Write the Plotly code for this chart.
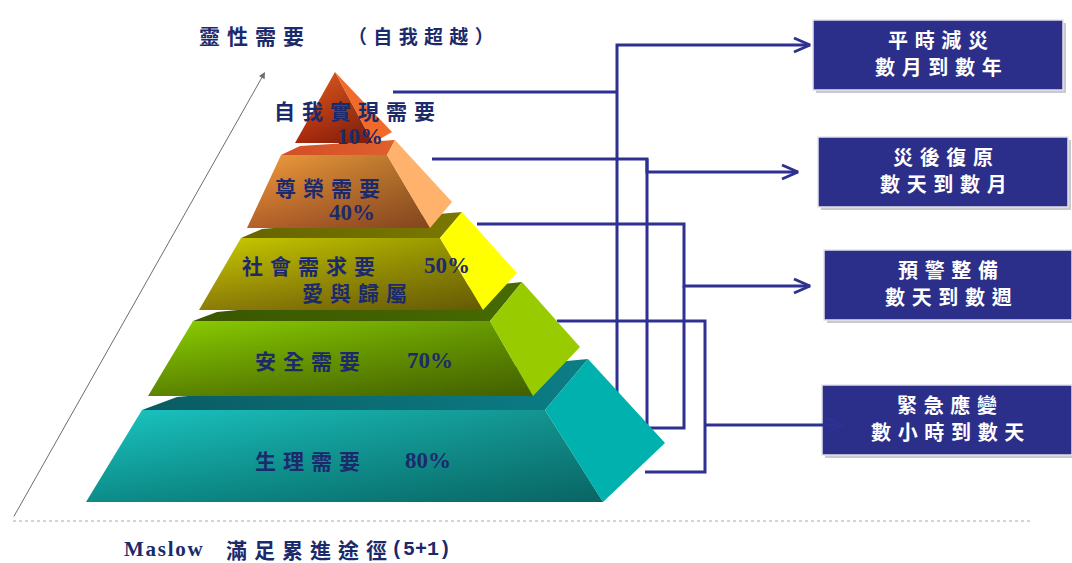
import plotly.graph_objects as go

# ---- content -------------------------------------------------------------
tier_names = ["生理需要", "安全需要", "社會需求要", "尊榮需要", "自我實現需要"]
tier_pcts = ["80%", "70%", "50%", "40%", "10%"]
tier_sub = {2: "愛與歸屬"}
top_title = "靈性需要"
top_title_note = "（自我超越）"
bottom_caption = ["Maslow", "滿足累進途徑", "(5+1)"]
phase_titles = ["平時減災", "災後復原", "預警整備", "緊急應變"]
phase_spans = ["數月到數年", "數天到數月", "數天到數週", "數小時到數天"]

# ---- styling ---------------------------------------------------------------
W, H = 1072, 563
NAVY = "#1c2a6c"
LINE = "#2e3192"
BOX = "#2c2f8a"
CJK = "Noto Sans CJK TC"
SERIF = "Liberation Serif"

# front face gradient (upper, lower), side colour, top-face colour per tier
tier_style = [
    dict(front=("#1ac6c2", "#0c8c89"), side="#00b1ad", top=("#0a5b62", "#0c7d86")),
    dict(front=("#8cd000", "#5c8400"), side="#99cc00", top=("#3a5600", "#476a00")),
    dict(front=("#cccc00", "#8c7c08"), side="#ffff00", top=("#666400", "#7a7800")),
    dict(front=("#f49d3c", "#b4602a"), side="#ffb26c", top=("#d24e28", "#e0602c")),
    dict(front=("#f0601f", "#a8280e"), side="#f26a2a", top=None),
]

# pyramid geometry (pixel space, y downwards)
tier_geom = [
    dict(front=[(142, 410), (545, 410), (603, 502), (86, 502)],
         top=[(142, 410), (177, 397), (588, 359), (545, 410)],
         side=[(545, 410), (588, 359), (665, 443), (603, 502)]),
    dict(front=[(193, 321), (490, 321), (533, 396), (148, 396)],
         top=[(193, 321), (217, 312), (522, 282), (490, 321)],
         side=[(490, 321), (522, 282), (580, 347), (533, 396)]),
    dict(front=[(241, 238), (440, 238), (483, 310), (199, 310)],
         top=[(241, 238), (262, 229), (462, 212), (440, 238)],
         side=[(440, 238), (462, 212), (517, 273), (483, 310)]),
    dict(front=[(281, 155), (387, 155), (430, 228), (247, 228)],
         top=[(281, 155), (300, 146), (395, 140), (387, 155)],
         side=[(387, 155), (395, 140), (452, 202), (430, 228)]),
    dict(front=[(335, 72), (373, 143), (295, 143)],
         top=None,
         side=[(335, 72), (392, 132), (373, 143)]),
]

# label anchors: (name left x, y), (pct centre x, y), optional sub line
label_pos = [
    ((253, 460), (428, 460), None),
    ((253, 360), (430, 360), None),
    ((240, 265), (447, 265), (300, 292)),
    ((273, 187), (352, 212), None),
    ((272, 110), (360, 136), None),
]

boxes = [(813, 20, 1063, 90), (818, 137, 1068, 207), (824, 250, 1072, 320), (822, 385, 1072, 455)]

# connector paths and where their arrows land
connectors = [
    [(393, 92), (617, 92)],
    [(617, 400), (617, 45), (810, 45)],
    [(432, 159), (647, 159), (647, 172), (798, 172)],
    [(647, 159), (647, 440)],
    [(477, 224), (684, 224), (684, 286), (810, 286)],
    [(684, 286), (684, 428), (650, 428)],
    [(557, 321), (705, 321), (705, 472), (645, 472)],
    [(705, 425), (842, 425)],
]
arrow_tips = [(810, 45), (798, 172), (810, 286), (842, 425)]


def spaced(s, gap="\u2004"):
    return gap.join(s)


def poly(pts, **kw):
    xs = [p[0] for p in pts] + [pts[0][0]]
    ys = [p[1] for p in pts] + [pts[0][1]]
    return go.Scatter(x=xs, y=ys, mode="lines", fill="toself",
                      line=dict(width=0, color="rgba(0,0,0,0)"),
                      hoverinfo="skip", showlegend=False, **kw)


fig = go.Figure()

# connectors (under the pyramid)
for path in connectors:
    fig.add_trace(go.Scatter(x=[p[0] for p in path], y=[p[1] for p in path],
                             mode="lines", line=dict(color=LINE, width=3),
                             hoverinfo="skip", showlegend=False))
for tx, ty in arrow_tips:
    fig.add_trace(go.Scatter(x=[tx - 16, tx, tx - 16], y=[ty - 7, ty, ty + 7],
                             mode="lines", line=dict(color=LINE, width=3),
                             hoverinfo="skip", showlegend=False))

# pyramid tiers, bottom first so upper tiers overlap
for geom, st in zip(tier_geom, tier_style):
    if geom["top"]:
        fig.add_trace(poly(geom["top"], fillgradient=dict(
            type="horizontal", colorscale=[[0, st["top"][0]], [1, st["top"][1]]])))
    # the y axis is reversed, so the lower colour goes first
    fig.add_trace(poly(geom["front"], fillgradient=dict(
        type="vertical", colorscale=[[0, st["front"][1]], [1, st["front"][0]]])))
    fig.add_trace(poly(geom["front"], fillgradient=dict(
        type="horizontal", colorscale=[[0, "rgba(0,0,0,0)"], [1, "rgba(0,0,0,0.28)"]])))
    fig.add_trace(poly(geom["side"], fillcolor=st["side"]))

annotations = []

# tier labels
for i, (name, pct) in enumerate(zip(tier_names, tier_pcts)):
    (nx, ny), (px, py), sub = label_pos[i]
    annotations.append(dict(x=nx, y=ny, text=spaced(name), xanchor="left", yanchor="middle",
                            font=dict(family=CJK, size=21, color=NAVY, weight=700)))
    annotations.append(dict(x=px, y=py, text=pct, xanchor="center", yanchor="middle",
                            font=dict(family=SERIF, size=23, color=NAVY, weight=700)))
    if sub:
        annotations.append(dict(x=sub[0], y=sub[1], text=spaced(tier_sub[i]), xanchor="left",
                                yanchor="middle",
                                font=dict(family=CJK, size=21, color=NAVY, weight=700)))

# heading above the pyramid
annotations.append(dict(x=197, y=35, text=spaced(top_title), xanchor="left", yanchor="middle",
                        font=dict(family=CJK, size=21, color=NAVY, weight=700)))
annotations.append(dict(x=346, y=35, text=spaced(top_title_note), xanchor="left", yanchor="middle",
                        font=dict(family=CJK, size=19, color=NAVY, weight=700)))

# caption under the baseline
annotations.append(dict(x=122, y=549, text=spaced(bottom_caption[0], "\u200a"), xanchor="left",
                        yanchor="middle", font=dict(family=SERIF, size=21, color=NAVY, weight=700)))
annotations.append(dict(x=224, y=549, text=spaced(bottom_caption[1]), xanchor="left",
                        yanchor="middle", font=dict(family=CJK, size=21, color=NAVY, weight=700)))
annotations.append(dict(x=389, y=549, text=bottom_caption[2], xanchor="left",
                        yanchor="middle", font=dict(family="Liberation Mono", size=20, color=NAVY, weight=700)))

# phase boxes text
for (x0, y0, x1, y1), t, s in zip(boxes, phase_titles, phase_spans):
    cx = (x0 + x1) / 2
    annotations.append(dict(x=cx, y=y0 + 19, text=spaced(t), xanchor="center", yanchor="middle",
                            font=dict(family=CJK, size=20, color="white", weight=700)))
    annotations.append(dict(x=cx, y=y0 + 46, text=spaced(s), xanchor="center", yanchor="middle",
                            font=dict(family=CJK, size=20, color="white", weight=700)))

# rising arrow on the left
annotations.append(dict(x=265, y=72, ax=13, ay=518, xref="x", yref="y", axref="x", ayref="y",
                        showarrow=True, arrowhead=2, arrowsize=1.3, arrowwidth=1,
                        arrowcolor="#6e6e6e", text=""))

for a in annotations:
    a.setdefault("xref", "x")
    a.setdefault("yref", "y")
    a.setdefault("showarrow", False)

shapes = []
for x0, y0, x1, y1 in boxes:
    shapes.append(dict(type="rect", x0=x0 + 3, y0=y0 + 3, x1=x1 + 3, y1=y1 + 3,
                       fillcolor="#c9c9cf", line=dict(width=0), layer="below"))
    shapes.append(dict(type="rect", x0=x0, y0=y0, x1=x1, y1=y1,
                       fillcolor=BOX, line=dict(color="#e2e2ea", width=1.5), layer="below"))
shapes.append(dict(type="line", x0=13, y0=521, x1=1032, y1=521,
                   line=dict(color="#a8a8a8", width=1, dash="dot"), layer="below"))

fig.update_layout(
    width=W, height=H,
    margin=dict(l=0, r=0, t=0, b=0),
    paper_bgcolor="white", plot_bgcolor="white",
    xaxis=dict(range=[0, W], visible=False, fixedrange=True),
    yaxis=dict(range=[H, 0], visible=False, fixedrange=True),
    annotations=annotations, shapes=shapes, showlegend=False,
)

fig.write_html("out.html")
